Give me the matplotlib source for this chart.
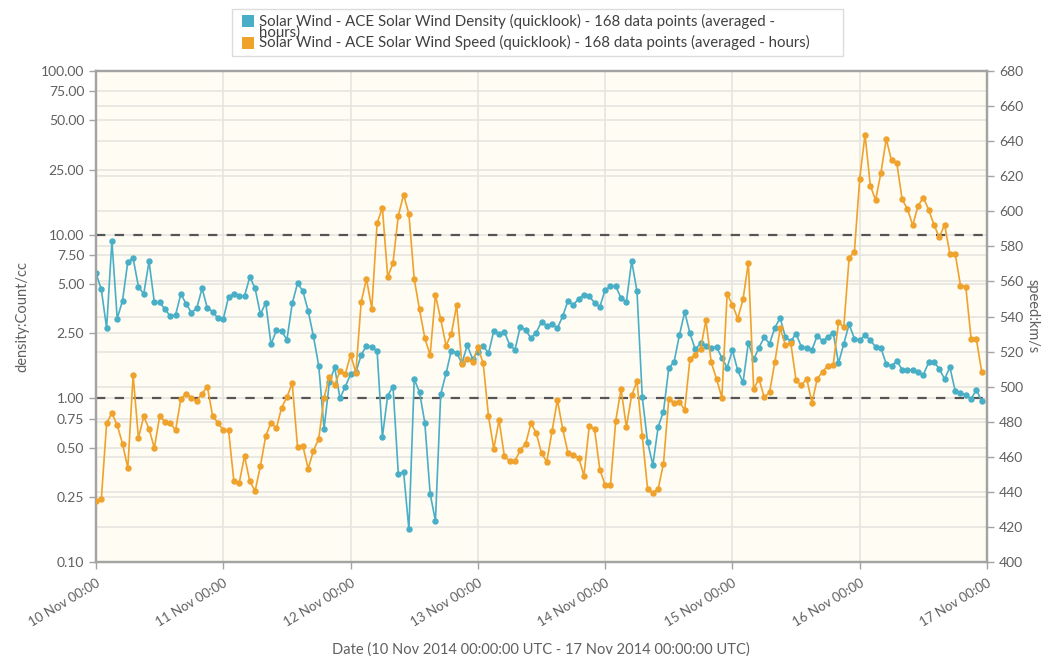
import numpy as np
import pandas as pd
import matplotlib
matplotlib.use("Agg")
import matplotlib.pyplot as plt
import matplotlib.dates as mdates
from matplotlib.patches import Rectangle

plt.rcParams['font.family'] = ['Lato', 'DejaVu Sans']

# hourly averages, 10 Nov 2014 00:00 -> 16 Nov 2014 23:00
hours = pd.date_range("2014-11-10 00:00", periods=168, freq="h")

density = [
    5.81, 4.63, 2.69, 9.15, 3.07, 3.95, 6.84, 7.17, 4.81, 4.34, 6.87, 3.86, 3.86, 3.50,
    3.18, 3.23, 4.34, 3.77, 3.34, 3.56, 4.70, 3.55, 3.39, 3.08, 3.05, 4.18, 4.32, 4.22,
    4.22, 5.51, 4.70, 3.26, 3.84, 2.14, 2.60, 2.58, 2.28, 3.80, 5.04, 4.53, 3.43, 2.39,
    1.58, 0.65, 1.25, 1.55, 1.00, 1.18, 1.40, 1.44, 1.84, 2.10, 2.05, 1.95, 0.58,
    1.04, 1.18, 0.347, 0.355, 0.158, 1.31, 1.09, 0.71, 0.262, 0.178, 1.06, 1.42, 1.96,
    1.89, 1.64, 2.11, 1.74, 1.93, 2.10, 1.88, 2.58, 2.47, 2.55, 2.12, 1.98, 2.74, 2.62,
    2.33, 2.52, 2.94, 2.77, 2.84, 2.68, 3.18, 3.95, 3.72, 4.06, 4.28, 4.20, 3.84, 3.63,
    4.59, 4.83, 4.83, 4.10, 3.88, 6.90, 4.53, 1.02, 0.54, 0.392, 0.67, 0.83, 1.53, 1.67,
    2.43, 3.37, 2.49, 1.99, 2.17, 2.08, 2.04, 2.06, 1.77, 1.54, 1.97, 1.48, 1.25, 2.19,
    1.73, 2.04, 2.36, 2.16, 2.70, 3.10, 2.36, 2.24, 2.48, 2.06, 2.04, 1.98, 2.42,
    2.24, 2.36, 2.52, 1.64, 2.15, 2.83, 2.32, 2.27, 2.43, 2.27, 2.06, 2.03, 1.62, 1.58,
    1.69, 1.50, 1.48, 1.49, 1.44, 1.39, 1.66, 1.66, 1.52, 1.31, 1.55, 1.11, 1.08, 1.05,
    0.99, 1.13, 0.96,
]

speed = [
    435, 435.7, 479, 485, 478, 467.5, 453.6, 506.6, 470.7, 483, 476, 465, 483, 480,
    479.5, 475, 493, 496, 493.5, 492, 496, 500, 483, 479.5, 475, 475, 446, 445,
    460.4, 446, 440.5, 454.7, 471.8, 479.5, 476.2, 488, 494, 502, 465.6, 466.3, 453.2, 463.5,
    470.3, 493.7, 505.5, 501, 508.7, 507, 518.2, 508, 548.3, 561.4, 544.5, 593.3, 602,
    562.5, 570.5, 597.5, 609.5, 598.4, 561.4, 544, 527.7, 518, 552.4, 538.4, 523.4, 530,
    546.5, 512.7, 515.8, 514, 522.4, 513.5, 483.3, 464.6, 481, 460.3, 457.6, 457.6, 463.9, 467.3,
    479, 473.7, 462, 457.2, 474.7, 492.4, 475.8, 462.2, 461.2, 459.5, 449.2, 477.4, 475.7, 452.7,
    443.9, 443.7, 480.6, 498.8, 477, 495, 503, 471.8, 441.8, 439.5, 441.8, 456.1, 493.1, 490.9,
    491.4, 486.7, 516, 518, 521.7, 537.8, 513.9, 504.5, 493.7, 552.6, 546.7, 538.8, 549.8, 570.7,
    498.7, 504.5, 493.9, 496.7, 514, 533.2, 523.7, 524.9, 503.6, 500.7, 504.5, 490.9, 504.5,
    508.5, 512, 512.3, 536.7, 534, 573.4, 577, 618.6, 643.7, 614.6, 606.4, 622, 641.2, 629,
    627.3, 606.8, 601.3, 592, 603.2, 607.8, 600.9, 592.4, 585.1, 592.4, 575.8, 575.8, 557.6, 557,
    527.4, 527, 508.5,
]

density_ticks = [0.1, 0.25, 0.5, 0.75, 1, 2.5, 5, 7.5, 10, 25, 50, 75, 100]
speed_ticks = list(range(400, 681, 20))
density_limits = [1, 10]

legend_labels = [
    "Solar Wind - ACE Solar Wind Density (quicklook) - 168 data points (averaged -",
    "Solar Wind - ACE Solar Wind Speed (quicklook) - 168 data points (averaged - hours)",
]

BLUE = '#49afc7'
ORANGE = '#efa22c'
GRID = '#e6e4df'
FRAME = '#a3a3a3'
TXT = '#606060'

fig = plt.figure(figsize=(10.52, 6.61), dpi=100)
ax = fig.add_axes([96 / 1052, 1 - 562 / 661, 891 / 1052, 491 / 661])
ax2 = ax.twinx()

ax.set_facecolor('#fefcf3')
ax.set_zorder(1)
ax2.set_zorder(2)
ax2.patch.set_visible(False)

# grid lines for both axes (drawn on the density axes, under everything)
ax.set_yscale('log')
ax.set_ylim(0.1, 100)
ax2.set_ylim(400, 680)
for v in density_ticks:
    ax.axhline(v, color=GRID, lw=1.2, zorder=0.5)
for v in speed_ticks:
    y = 10 ** (-1 + 3 * (v - 400) / 280)
    ax.axhline(y, color=GRID, lw=1.2, zorder=0.5)
days = pd.date_range("2014-11-10", periods=8, freq="D")
for d in days:
    ax.axvline(d, color=GRID, lw=1.2, zorder=0.5)

for v in density_limits:
    ax.axhline(v, color='#555555', lw=1.6, dashes=(4.2, 4.2), zorder=1)

ax.plot(hours, density, color=BLUE, lw=1.2, marker='o', ms=3.6, mec=BLUE, mfc=BLUE, zorder=3)
ax2.plot(hours, speed, color=ORANGE, lw=1.2, marker='o', ms=3.6, mec=ORANGE, mfc=ORANGE, zorder=3)

ax.set_xlim(days[0], days[-1])
ax.xaxis.set_major_locator(mdates.DayLocator())
ax.xaxis.set_major_formatter(mdates.DateFormatter('%d %b %H:%M'))
ax.minorticks_off()
ax.set_yticks(density_ticks)
ax.set_yticklabels(['%.2f' % v for v in density_ticks])
ax.yaxis.set_minor_locator(matplotlib.ticker.NullLocator())
ax2.set_yticks(speed_ticks)
ax2.set_yticklabels([str(v) for v in speed_ticks])

for a in (ax, ax2):
    for s in a.spines.values():
        s.set_color(FRAME)
        s.set_linewidth(1.6)
    a.tick_params(colors=FRAME, labelcolor=TXT, length=5, width=1, labelsize=10)

ax.tick_params(axis='x', pad=6, labelsize=9.5)
for lbl in ax.get_xticklabels():
    lbl.set_rotation(31)
    lbl.set_ha('right')
    lbl.set_rotation_mode('anchor')

ax.set_ylabel('density:Count/cc', color=TXT, fontsize=10.5, labelpad=8)
ax2.set_ylabel('speed:km/s', color=TXT, fontsize=10.5, rotation=-90, labelpad=12)
fig.text(541 / 1052, 1 - 650 / 661, 'Date (10 Nov 2014 00:00:00 UTC - 17 Nov 2014 00:00:00 UTC)',
         color=TXT, fontsize=10.5, ha='center', va='center')

# legend box drawn by hand (the original wraps the first label onto the second row)
fig.patches.append(Rectangle((232 / 1052, 1 - 56 / 661), 611 / 1052, 47 / 661,
                             transform=fig.transFigure, facecolor='white',
                             edgecolor='#dcdcdc', lw=1))
for i, (lab, col) in enumerate(zip(legend_labels, [BLUE, ORANGE])):
    yc = 21 + 21.5 * i
    fig.patches.append(Rectangle((242 / 1052, 1 - (yc + 6) / 661), 12 / 1052, 12 / 661,
                                 transform=fig.transFigure, facecolor=col, edgecolor='none'))
    fig.text(259 / 1052, 1 - yc / 661, lab, fontsize=10.8, color='#404040', va='center')
fig.text(259 / 1052, 1 - 33 / 661, 'hours)', fontsize=10.8, color='#404040', va='center')

fig.savefig('out.png', dpi=100)
